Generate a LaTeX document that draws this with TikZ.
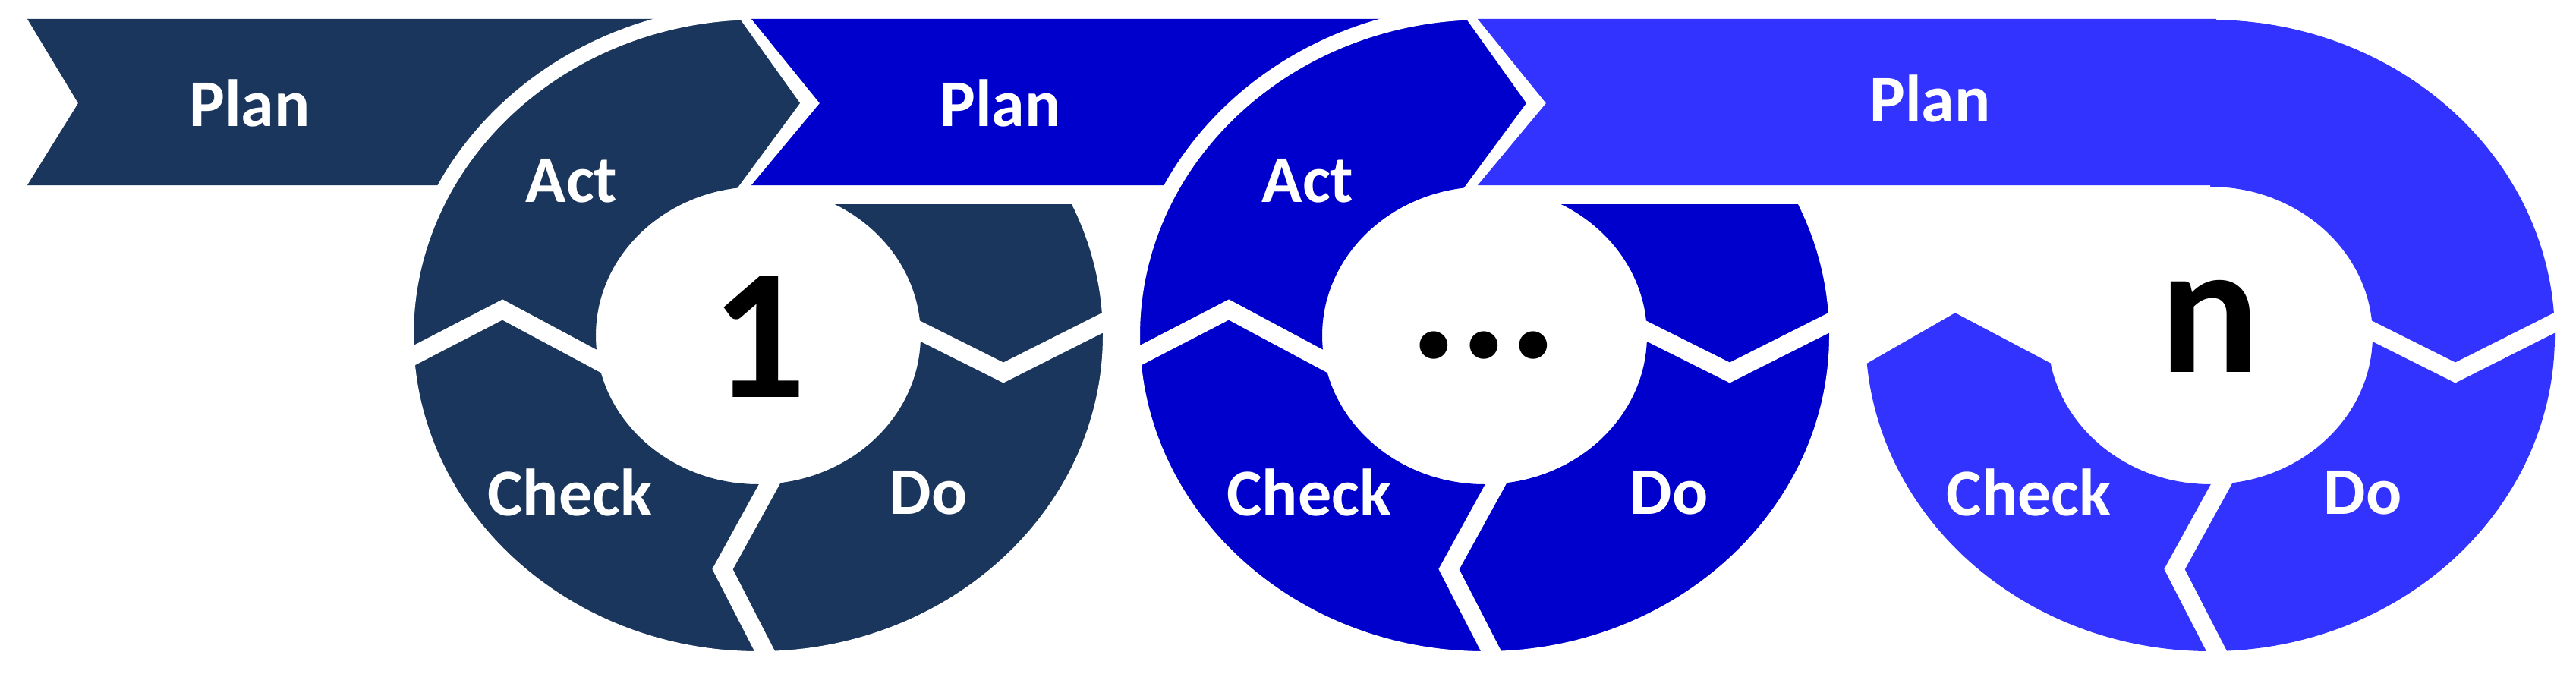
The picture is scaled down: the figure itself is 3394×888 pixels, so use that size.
\documentclass[tikz,border=0pt]{standalone}
\usepackage{fontspec}
\setmainfont{Carlito}
\definecolor{cA}{RGB}{26,54,93}
\definecolor{cB}{RGB}{0,0,204}
\definecolor{cC}{RGB}{51,51,255}
\begin{document}
\begin{tikzpicture}[x=1pt,y=-1pt,
  gap/.style={draw=white,line width=24pt,line join=miter},
  lbl/.style={text=white,font=\bfseries\fontsize{20}{20}\selectfont,inner sep=0pt,scale=4.4},
  big/.style={text=black,font=\bfseries\fontsize{20}{20}\selectfont,inner sep=0pt,scale=12.3}]
\useasboundingbox[fill=white] (0,0) rectangle (3394,888);
\newcommand\cycleAB[2]{%
  \begin{scope}[shift={(#1,0)}]
  \fill[#2,even odd rule] (0,442) ellipse[x radius=464pt,y radius=426pt] (0,442) ellipse[x radius=214pt,y radius=196pt];
  \draw[white,line width=20pt] (0,442) ellipse[x radius=464pt,y radius=426pt];
  \draw[gap] (-480,482) -- (-337,408) -- (-195,484);
  \draw[gap] (30,610) -- (-47,750) -- (25,890);
  \draw[gap] (195,427) -- (323,491) -- (480,412);
  \draw[gap] (-20,10) -- (70,136) -- (-20,258);
  \fill[white] (-20,244) rectangle (480,269);
  \end{scope}}
% band 1 and cycle 1
\fill[cA] (36,25) -- (957,25) -- (957,244) -- (36,244) -- (103,136) -- cycle;
\cycleAB{999}{cA}
% band 2 and cycle 2
\fill[cB] (990,25) -- (1914,25) -- (1914,244) -- (990,244) -- (1080,136) -- cycle;
\cycleAB{1956}{cB}
% cycle 3
\begin{scope}[shift={(2912,0)}]
  \fill[cC,even odd rule] (0,442) ellipse[x radius=454pt,y radius=416pt] (0,442) ellipse[x radius=214pt,y radius=196pt];
  \fill[white] (-465,0) -- (0,0) -- (0,490) -- (-211,478) -- (-336,412) -- (-465,486) -- cycle;
  \draw[gap] (30,610) -- (-47,750) -- (25,890);
  \draw[gap] (195,427) -- (323,491) -- (480,412);
\end{scope}
\fill[cC] (2920,25) -- (2920,244) -- (1947,244) -- (2037,136) -- (1947,25) -- cycle;
% labels
\node[lbl] (p1) at (329,136) {Plan};
\node[lbl] (p2) at (1318,136) {Plan};
\node[lbl] (p3) at (2543,130) {Plan};
\node[lbl] (a1) at (753,238) {Act};
\node[lbl] (c1) at (751,649) {Check};
\node[lbl] (d1) at (1223,649) {Do};
\node[big] (n1) at (1000,444) {1};
\node[lbl] (a2) at (1723,238) {Act};
\node[lbl] (c2) at (1725,649) {Check};
\node[lbl] (d2) at (2199,649) {Do};
\node[big] (n2) at (1955,455) {...};
\node[lbl] (c3) at (2673,649) {Check};
\node[lbl] (d3) at (3113,649) {Do};
\node[big] (n3) at (2911,430) {n};
\end{tikzpicture}
\end{document}
